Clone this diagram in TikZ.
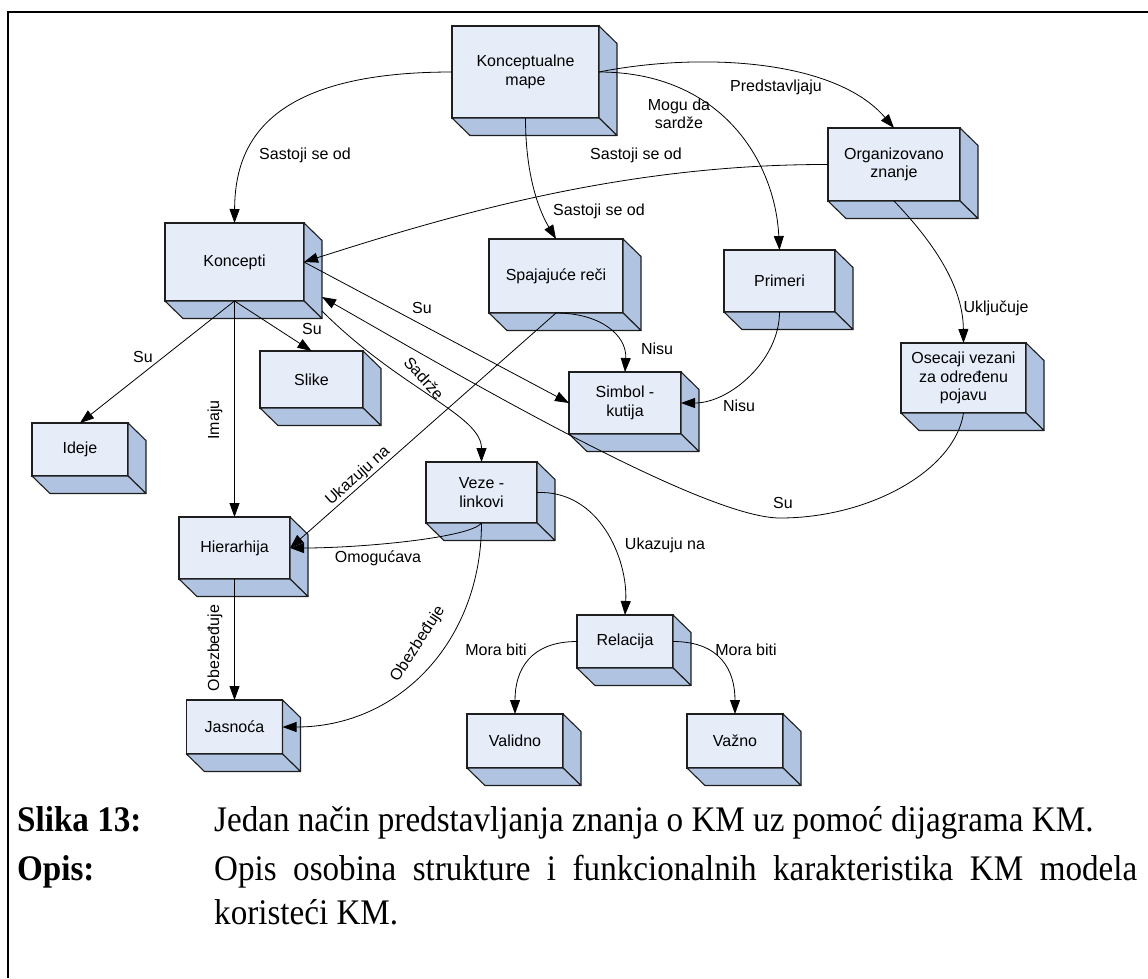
\documentclass[tikz,border=0pt]{standalone}
\usepackage{fontspec}
\setmainfont{Liberation Serif}
\newfontfamily\capfont[FakeStretch=0.92]{Liberation Serif}
\newfontfamily\diafont{Liberation Sans}
\usetikzlibrary{arrows.meta,calc}
\definecolor{boxfront}{RGB}{230,236,248}
\definecolor{boxside}{RGB}{176,196,226}
\definecolor{boxedge}{RGB}{30,30,30}

% 3D box: name, centre x, centre y, front width, front height, text
\newcommand\kmcube[6]{%
  \node[kmbox, minimum width=#4pt, minimum height=#5pt] (#1) at (#2,#3) {#6};
  \path[face] (#1.north east) -- ++(18,17.5) -- ($(#1.south east)+(18,17.5)$) -- (#1.south east) -- cycle;
  \path[face] (#1.south west) -- (#1.south east) -- ++(18,17.5) -- ($(#1.south west)+(18,17.5)$) -- cycle;
}

\begin{document}
\begin{tikzpicture}[x=1pt,y=-1pt,
  kmbox/.style={draw=boxedge, fill=boxfront, line width=1.1pt, inner sep=0pt, outer sep=0pt,
    align=center, text=black, font=\diafont\fontsize{16}{18.5}\selectfont},
  face/.style={draw=boxedge, fill=boxside, line width=1.1pt, line join=round},
  link/.style={draw=black, line width=0.8pt, -{Triangle[length=14pt,width=10pt]}},
  lbl/.style={font=\diafont\fontsize{16}{18.5}\selectfont, inner sep=0pt, align=center},
  capb/.style={font=\capfont\fontsize{36}{42}\selectfont\bfseries, inner sep=0pt},
  capt/.style={font=\capfont\fontsize{36}{42}\selectfont, inner sep=0pt},
]
\useasboundingbox (0,0) rectangle (1148,978);
\fill[white] (0,0) rectangle (1148,978);

% page frame
\draw[line width=1.8pt] (8,978) -- (8,12) -- (1148,12);

% concept boxes
\kmcube{km}{525.5}{72}{147}{92}{Konceptualne\\mape}
\kmcube{org}{894}{164.5}{132}{73}{Organizovano\\znanje}
\kmcube{kon}{234.5}{262}{139}{78}{Koncepti}
\kmcube{spa}{556}{276}{134}{74}{Spajajuće reči}
\kmcube{pri}{779.5}{281}{111}{62}{Primeri}
\kmcube{sli}{311.5}{379.5}{103}{57}{Slike}
\kmcube{sim}{625}{403}{112}{62}{Simbol -\\kutija}
\kmcube{ose}{963.5}{378}{125}{70}{Osecaji vezani\\za određenu\\pojavu}
\kmcube{ide}{80}{449.5}{96}{53}{Ideje}
\kmcube{vez}{481.5}{492.5}{111}{61}{Veze -\\linkovi}
\kmcube{hie}{234.5}{548}{111}{62}{Hierarhija}
\kmcube{rel}{625}{641.5}{96}{53}{Relacija}
\kmcube{jas}{234.5}{727}{96}{54}{Jasnoća}
\kmcube{val}{515}{741}{96}{54}{Validno}
\kmcube{vaz}{735}{741}{96}{54}{Važno}

\coordinate (konside) at ($(kon.south east)+(18,-4)$);
\coordinate (konfoot) at ($(kon.south east)+(18,10)$);

% connectors
\draw[link] (km.west) .. controls (265,72) and (235,145) .. (kon.north);
\draw[link] (km.east) .. controls (700,52) and (835,59) .. (org.north);
\draw[link] (km.east) .. controls (720,72) and (775,160) .. (pri.north);
\draw[link] (km.south) .. controls (525.5,180) and (541,214) .. (spa.north);
\draw[link] (org.west) .. controls (620,164) and (445,217) .. (kon.east);
\draw[link] (org.south) .. controls (939,248) and (963,290) .. (ose.north);
\draw[link] (ose.south) .. controls (955,470) and (870,518) .. (780,518)
            .. controls (700,518) and (438,363) .. (konside);
\draw[link] (kon.south) -- (ide.north);
\draw[link] (kon.south) -- (sli.north);
\draw[link] (kon.south) -- (hie.north);
\draw[link] (kon.east) -- (sim.west);
\draw[link] (konfoot) .. controls (400,389) and (481.5,415) .. (vez.north);
\draw[link] (spa.south) .. controls (600,313) and (627,335) .. (sim.north);
\draw[link] (spa.south) -- (hie.east);
\draw[link] (pri.south) .. controls (779.5,360) and (730,403) .. (sim.east);
\draw[link] (vez.south) .. controls (470,538) and (360,548) .. (hie.east);
\draw[link] (vez.south) .. controls (481.5,640) and (400,727) .. (jas.east);
\draw[link] (hie.south) -- (jas.north);
\draw[link] (vez.east) .. controls (600,490) and (628,560) .. (rel.north);
\draw[link] (rel.west) .. controls (530,641.5) and (515,670) .. (val.north);
\draw[link] (rel.east) .. controls (720,641.5) and (735,670) .. (vaz.north);

% connector labels
\node[lbl, anchor=west] (t1) at (259,155) {Sastoji se od};
\node[lbl] (t2) at (776,87) {Predstavljaju};
\node[lbl] (t3) at (679,114) {Mogu da\\sardže};
\node[lbl] (t4) at (599,211) {Sastoji se od};
\node[lbl] (t5) at (636,155) {Sastoji se od};
\node[lbl] (t6) at (996,308) {Uključuje};
\node[lbl] (t7) at (783,503) {Su};
\node[lbl] (t8) at (143,357) {Su};
\node[lbl] (t9) at (312,329) {Su};
\node[lbl, rotate=90] (t10) at (215,420) {Imaju};
\node[lbl] (t11) at (422,308) {Su};
\node[lbl, rotate=-48] (t12) at (424,378) {Sadrže};
\node[lbl] (t13) at (657,349) {Nisu};
\node[lbl, rotate=42] (t14) at (358,476) {Ukazuju na};
\node[lbl] (t15) at (739,406) {Nisu};
\node[lbl] (t16) at (378,558) {Omogućava};
\node[lbl, rotate=57] (t17) at (418,644) {Obezbeđuje};
\node[lbl, rotate=90] (t18) at (215,648) {Obezbeđuje};
\node[lbl] (t19) at (665,545) {Ukazuju na};
\node[lbl] (t20) at (496,650) {Mora biti};
\node[lbl] (t21) at (746,650) {Mora biti};

% caption
\node[capb, anchor=base west] (c1) at (17,831) {Slika 13:};
\node[capt, anchor=base west] (c1t) at (214,831) {Jedan način predstavljanja znanja o KM uz pomoć dijagrama KM.};
\node[capb, anchor=base west] (c2) at (17,880) {Opis:};
\node[capt, anchor=base west] (c2t) at (214,880) {\makebox[923pt][s]{Opis osobina strukture i funkcionalnih karakteristika KM modela}};
\node[capt, anchor=base west] (c3) at (214,924) {koristeći KM.};
\end{tikzpicture}
\end{document}
